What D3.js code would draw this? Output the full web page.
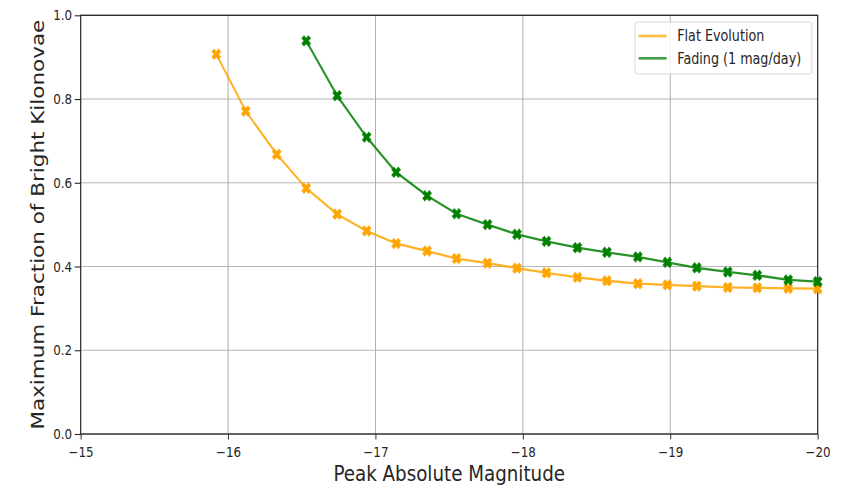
<!DOCTYPE html>
<html>
<head>
<meta charset="utf-8">
<script src="https://cdn.jsdelivr.net/npm/d3@7"></script>
<style>
  html, body { margin: 0; padding: 0; background: #fff; }
  svg { display: block; }
  text { font-family: "DejaVu Sans", sans-serif; fill: #262626; }
</style>
</head>
<body>
<div id="chart"></div>
<script>
// Peak absolute magnitude grid shared by both curves
const magnitudes = [-15.92, -16.12, -16.33, -16.53, -16.74, -16.94, -17.14, -17.35, -17.55, -17.76,
                    -17.96, -18.16, -18.37, -18.57, -18.78, -18.98, -19.18, -19.39, -19.59, -19.80, -20.00];

// Flat evolution: maximum fraction of bright kilonovae
const flatValues = [0.907, 0.771, 0.668, 0.587, 0.525, 0.485, 0.455, 0.437, 0.419, 0.408, 0.396,
                    0.385, 0.374, 0.366, 0.359, 0.356, 0.353, 0.350, 0.349, 0.348, 0.347];

// Fading at 1 mag/day, starts at the fourth magnitude of the grid
const fadingMagnitudes = [-16.53, -16.74, -16.94, -17.14, -17.35, -17.55, -17.76, -17.96, -18.16,
                          -18.37, -18.57, -18.78, -18.98, -19.18, -19.39, -19.59, -19.80, -20.00];
const fadingValues = [0.939, 0.808, 0.709, 0.625, 0.569, 0.526, 0.500, 0.477, 0.460, 0.445,
                      0.434, 0.423, 0.410, 0.397, 0.387, 0.379, 0.368, 0.364];

const xTicks = [-15, -16, -17, -18, -19, -20];
const yTicks = [0.0, 0.2, 0.4, 0.6, 0.8, 1.0];
const seriesNames = ["Flat Evolution", "Fading (1 mag/day)"];
const seriesColors = ["#ffa500", "#008000"];

// The figure is laid out on a wider canvas and squeezed horizontally
const outW = 846, H = 486, W = 995;
const margin = { left: 94.9, right: W - 961.7, top: 15.3, bottom: H - 434 };

const svg = d3.select("#chart").append("svg")
  .attr("width", outW).attr("height", H)
  .attr("viewBox", `0 0 ${W} ${H}`)
  .attr("preserveAspectRatio", "none");

const x = d3.scaleLinear().domain([-15, -20]).range([margin.left, W - margin.right]);
const y = d3.scaleLinear().domain([0, 1]).range([H - margin.bottom, margin.top]);

// Grid
const grid = svg.append("g").attr("class", "grid");
grid.selectAll("line.v").data(xTicks).join("line")
  .attr("x1", d => x(d)).attr("x2", d => x(d))
  .attr("y1", y(0)).attr("y2", y(1))
  .attr("stroke", "#b0b0b0").attr("stroke-width", 1.2);
grid.selectAll("line.h").data(yTicks).join("line")
  .attr("x1", x(-15)).attr("x2", x(-20))
  .attr("y1", d => y(d)).attr("y2", d => y(d))
  .attr("stroke", "#b0b0b0").attr("stroke-width", 1);

// Axes
const xAxis = svg.append("g")
  .attr("transform", `translate(0,${y(0)})`)
  .call(d3.axisBottom(x).tickValues(xTicks).tickSize(5.5).tickPadding(7.5)
    .tickFormat(d => d3.format("d")(d).replace("-", "\u2212")));
const yAxis = svg.append("g")
  .attr("transform", `translate(${x(-15)},0)`)
  .call(d3.axisLeft(y).tickValues(yTicks).tickSize(7).tickPadding(3)
    .tickFormat(d3.format(".1f")));
[xAxis, yAxis].forEach(a => {
  a.select(".domain").remove();
  a.selectAll(".tick line").attr("stroke", "#262626").attr("stroke-width", 1.1);
  a.selectAll(".tick text").attr("font-size", 14).attr("font-family", "DejaVu Sans").attr("fill", "#262626");
});

// Frame
svg.append("rect")
  .attr("x", x(-15)).attr("y", y(1))
  .attr("width", x(-20) - x(-15)).attr("height", y(0) - y(1))
  .attr("fill", "none").attr("stroke", "#262626").attr("stroke-width", 1.3);

// Curves
const series = [
  { name: seriesNames[0], color: seriesColors[0], xs: magnitudes, ys: flatValues },
  { name: seriesNames[1], color: seriesColors[1], xs: fadingMagnitudes, ys: fadingValues }
];
const line = d3.line().x(d => x(d[0])).y(d => y(d[1]));
const marker = d3.symbol().type(d3.symbolCross).size(68);

series.forEach(s => {
  const pts = s.xs.map((m, i) => [m, s.ys[i]]);
  svg.append("path").datum(pts)
    .attr("d", line)
    .attr("fill", "none").attr("stroke", s.color)
    .attr("stroke-width", 2.3).attr("stroke-opacity", 0.85);
  svg.append("g").selectAll("path").data(pts).join("path")
    .attr("d", marker)
    .attr("transform", d => `translate(${x(d[0])},${y(d[1])}) rotate(45)`)
    .attr("fill", s.color).attr("stroke", s.color)
    .attr("stroke-width", 1).attr("stroke-opacity", 0.6);
});

// Legend
const lg = svg.append("g");
lg.append("rect")
  .attr("x", 746.8).attr("y", 22).attr("width", 208).attr("height", 52)
  .attr("rx", 3).attr("fill", "#fff").attr("fill-opacity", 0.8)
  .attr("stroke", "#d6d6d6").attr("stroke-width", 1);
series.forEach((s, i) => {
  const cy = 36 + i * 22.3;
  lg.append("line")
    .attr("x1", 751).attr("x2", 784).attr("y1", cy).attr("y2", cy)
    .attr("stroke", s.color).attr("stroke-width", 2.6).attr("stroke-opacity", 0.75);
  lg.append("text")
    .attr("x", 796.5).attr("y", cy + 5.3)
    .attr("font-size", 15).text(s.name);
});

// Axis titles
svg.append("text")
  .attr("x", (x(-15) + x(-20)) / 2).attr("y", 481.5)
  .attr("text-anchor", "middle").attr("font-size", 21.5)
  .text("Peak Absolute Magnitude");
svg.append("text")
  .attr("transform", `translate(51.5,${(y(0) + y(1)) / 2}) rotate(-90)`)
  .attr("text-anchor", "middle").attr("font-size", 21.5)
  .text("Maximum Fraction of Bright Kilonovae");
</script>
</body>
</html>
